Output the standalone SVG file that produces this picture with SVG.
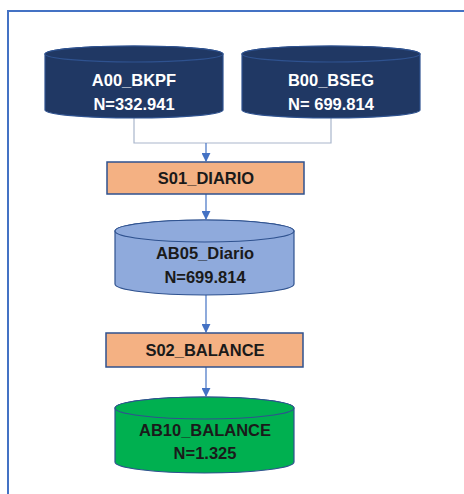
<svg xmlns="http://www.w3.org/2000/svg" width="464" height="494" viewBox="0 0 464 494">
<defs>
<style>
.t{font-family:"Liberation Sans",Arial,sans-serif;font-weight:bold;font-size:16.5px;text-anchor:middle}
.w{fill:#ffffff}
.k{fill:#1a1a1a}
.cn{fill:none;stroke:#4472C4;stroke-width:1.2}
.cg{fill:none;stroke:#A9B6CC;stroke-width:1.2}
.box{fill:#F4B183;stroke:#2F528F;stroke-width:1.5}
</style>
<marker id="ah" viewBox="0 0 10 10" refX="9" refY="5" markerWidth="9" markerHeight="9" markerUnits="userSpaceOnUse" orient="auto">
<path d="M0,0 L10,5 L0,10 z" fill="#4472C4"/>
</marker>
</defs>
<rect width="464" height="494" fill="#ffffff"/>
<rect x="8" y="11" width="480" height="500" fill="none" stroke="#4472C4" stroke-width="2"/>
<g id="connectors">
<path class="cg" d="M134,118 V143 H331 V118"/>
<path class="cn" d="M206,143 V161" marker-end="url(#ah)"/>
<path class="cn" d="M206,194 V219" marker-end="url(#ah)"/>
<path class="cn" d="M206,295 V332" marker-end="url(#ah)"/>
<path class="cn" d="M206,367 V396" marker-end="url(#ah)"/>
</g>
<g id="A00_BKPF">
<path d="M45,54 A89,8 0 0 1 223,54 V110 A89,8 0 0 1 45,110 Z" fill="#203864" stroke="#2F528F" stroke-width="1.2"/>
<ellipse cx="134" cy="54" rx="89" ry="8" fill="#203864" stroke="#2F528F" stroke-width="1.2"/>
<text class="t w" x="134" y="86">A00_BKPF</text>
<text class="t w" x="134" y="110">N=332.941</text>
</g>
<g id="B00_BSEG">
<path d="M242,54 A89,8 0 0 1 420,54 V110 A89,8 0 0 1 242,110 Z" fill="#203864" stroke="#2F528F" stroke-width="1.2"/>
<ellipse cx="331" cy="54" rx="89" ry="8" fill="#203864" stroke="#2F528F" stroke-width="1.2"/>
<text class="t w" x="331" y="86">B00_BSEG</text>
<text class="t w" x="331" y="110">N= 699.814</text>
</g>
<g id="S01_DIARIO">
<rect class="box" x="107" y="162" width="197" height="32"/>
<text class="t k" x="206" y="184">S01_DIARIO</text>
</g>
<g id="AB05_Diario">
<path d="M115,231 A89.5,11 0 0 1 294,231 V284 A89.5,11 0 0 1 115,284 Z" fill="#8FAADC" stroke="#2F528F" stroke-width="1.2"/>
<ellipse cx="204.5" cy="231" rx="89.5" ry="11" fill="#8FAADC" stroke="#2F528F" stroke-width="1.2"/>
<text class="t k" x="205" y="259">AB05_Diario</text>
<text class="t k" x="205" y="283">N=699.814</text>
</g>
<g id="S02_BALANCE">
<rect class="box" x="106" y="333" width="197" height="34"/>
<text class="t k" x="205" y="356">S02_BALANCE</text>
</g>
<g id="AB10_BALANCE">
<path d="M115,408 A89.5,11 0 0 1 294,408 V462 A89.5,11 0 0 1 115,462 Z" fill="#00B050" stroke="#2F528F" stroke-width="1.2"/>
<ellipse cx="204.5" cy="408" rx="89.5" ry="11" fill="#00B050" stroke="#2F528F" stroke-width="1.2"/>
<text class="t k" x="205" y="436">AB10_BALANCE</text>
<text class="t k" x="205" y="459">N=1.325</text>
</g>
</svg>
